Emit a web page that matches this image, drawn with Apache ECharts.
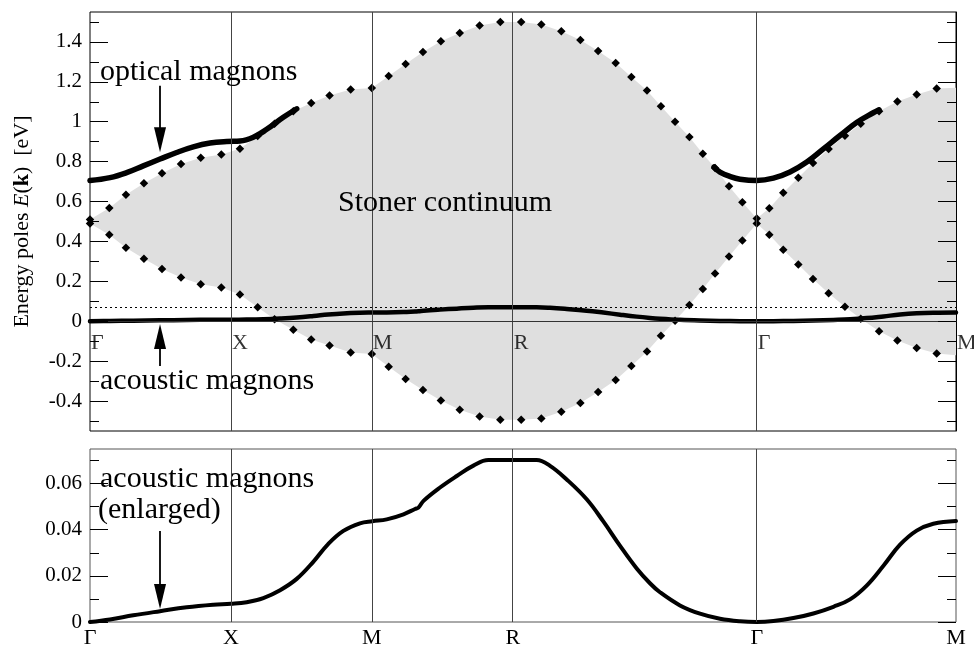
<!DOCTYPE html>
<html>
<head>
<meta charset="utf-8">
<script src="https://cdn.jsdelivr.net/npm/echarts@6/dist/echarts.min.js"></script>
<style>html,body{margin:0;padding:0;background:#fff}#c{width:974px;height:649px}</style>
</head>
<body>
<div id="c"></div>
<script>
// ---- high-symmetry points (units of pi/a along path) ----
const kPos = [0, 1, 2, 3, 4.732, 6.146];
const kNames = ['Γ', 'X', 'M', 'R', 'Γ', 'M'];

// ---- top panel ticks ----
const topMajor = [-0.4, -0.2, 0, 0.2, 0.4, 0.6, 0.8, 1, 1.2, 1.4];
const topMinor = [-0.5, -0.3, -0.1, 0.1, 0.3, 0.5, 0.7, 0.9, 1.1, 1.3, 1.5];
// ---- bottom panel ticks ----
const botMajor = [0, 0.02, 0.04, 0.06];
const botMinor = [0.01, 0.03, 0.05, 0.07];

// ---- Stoner continuum boundary (dots) ----
const stonerX = [0, 0.137, 0.255, 0.383, 0.511, 0.646, 0.786, 0.932, 1.064, 1.19, 1.31, 1.443, 1.57, 1.70, 1.85, 2.0, 2.12, 2.24, 2.363, 2.49, 2.624, 2.765, 2.912, 3.06, 3.203, 3.345, 3.48, 3.606, 3.731, 3.842, 3.953, 4.052, 4.152, 4.254, 4.349, 4.436, 4.535, 4.63, 4.732, 4.821, 4.92, 5.027, 5.131, 5.242, 5.358, 5.47, 5.6, 5.73, 5.867, 6.009];
const stonerUpper = [0.51, 0.568, 0.634, 0.692, 0.742, 0.788, 0.819, 0.836, 0.865, 0.928, 0.99, 1.052, 1.094, 1.132, 1.162, 1.169, 1.229, 1.29, 1.35, 1.403, 1.445, 1.482, 1.5, 1.5, 1.487, 1.453, 1.41, 1.355, 1.295, 1.224, 1.156, 1.077, 1.0, 0.923, 0.839, 0.768, 0.677, 0.597, 0.515, 0.567, 0.644, 0.719, 0.793, 0.863, 0.93, 0.99, 1.052, 1.102, 1.137, 1.166];
const stonerLower = [0.49, 0.433, 0.368, 0.313, 0.262, 0.219, 0.186, 0.169, 0.134, 0.07, 0.01, -0.042, -0.092, -0.122, -0.156, -0.164, -0.228, -0.29, -0.345, -0.397, -0.443, -0.477, -0.494, -0.494, -0.487, -0.453, -0.41, -0.355, -0.295, -0.224, -0.152, -0.072, 0.003, 0.082, 0.162, 0.24, 0.324, 0.405, 0.49, 0.433, 0.359, 0.284, 0.212, 0.14, 0.073, 0.012, -0.05, -0.097, -0.134, -0.161];
// continuum edge value at the right frame (M)
const stonerEdge = { x: 6.146, upper: 1.17, lower: -0.17 };

// ---- optical magnons ----
const opt1X = [0, 0.142, 0.26, 0.378, 0.497, 0.615, 0.733, 0.852, 0.97, 1.065, 1.159, 1.254, 1.372, 1.467];
const opt1Y = [0.705, 0.72, 0.745, 0.779, 0.813, 0.846, 0.874, 0.893, 0.901, 0.903, 0.922, 0.962, 1.022, 1.065];
const opt2X = [4.429, 4.471, 4.542, 4.613, 4.732, 4.85, 4.968, 5.087, 5.205, 5.323, 5.441, 5.559, 5.6];
const opt2Y = [0.773, 0.748, 0.726, 0.712, 0.705, 0.717, 0.748, 0.798, 0.864, 0.931, 0.996, 1.045, 1.06];

// ---- acoustic magnons ----
const acX = [0, 0.142, 0.307, 0.497, 0.686, 0.875, 1.0, 1.112, 1.23, 1.349, 1.467, 1.586, 1.69, 1.798, 1.916, 2.004, 2.106, 2.225, 2.307, 2.331, 2.367, 2.484, 2.603, 2.721, 2.827, 3.0, 3.17, 3.265, 3.383, 3.525, 3.643, 3.762, 3.88, 3.974, 4.045, 4.187, 4.329, 4.471, 4.613, 4.732, 4.85, 4.992, 5.134, 5.276, 5.394, 5.512, 5.631, 5.749, 5.867, 5.985, 6.146];
const acY = [0, 0.0011, 0.0029, 0.0047, 0.0064, 0.0075, 0.0079, 0.0086, 0.0104, 0.0138, 0.0187, 0.0262, 0.0338, 0.0395, 0.0428, 0.0437, 0.0445, 0.0467, 0.049, 0.0496, 0.0525, 0.0583, 0.0633, 0.0678, 0.0702, 0.0702, 0.0702, 0.0677, 0.0618, 0.0532, 0.0436, 0.033, 0.0232, 0.0168, 0.0129, 0.0072, 0.0036, 0.0014, 0.0003, 0, 0.0004, 0.0017, 0.0037, 0.0066, 0.0098, 0.0158, 0.0244, 0.0335, 0.0396, 0.0426, 0.0438];

// dotted reference level in top panel
const refLevel = 0.075;

const zip = (xs, ys) => xs.map((x, i) => [x, ys[i]]);
const FONT = '"Liberation Serif", "Times New Roman", serif';
const fmtNum = v => String(+(+v).toFixed(3));
const kLabel = v => { let b = 0; kPos.forEach((p, i) => { if (Math.abs(p - v) < Math.abs(kPos[b] - v)) b = i; }); return kNames[b]; };

function yAx(grid, pos, ticks, len, labels, range, extra) {
  return Object.assign({
    type: 'value', gridIndex: grid, position: pos, min: range[0], max: range[1], z: 6,
    axisLine: { show: false, onZero: false },
    axisTick: { show: true, inside: true, length: len, customValues: ticks, lineStyle: { color: '#000', width: 1 } },
    axisLabel: labels ? { show: true, customValues: ticks, formatter: fmtNum, margin: 8, color: '#000', fontFamily: FONT, fontSize: 21 } : { show: false },
    splitLine: { show: false }
  }, extra || {});
}

const topRange = [-0.55, 1.55];
const botRange = [0, 0.075];

const vLines = kPos.slice(1, 5).map(p => ({ xAxis: p }));
const lineBlack = { color: '#000', width: 1.8, type: 'solid' };
function arrow(x, y1, y2) {
  return [
    { coord: [x, y1], symbol: 'none', lineStyle: lineBlack },
    { coord: [x, y2], symbol: 'triangle', symbolSize: [12, 25], lineStyle: lineBlack, itemStyle: { color: '#000' } }
  ];
}

const fillPoly = {
  type: 'custom', xAxisIndex: 0, yAxisIndex: 0, z: 1, silent: true,
  data: [[0, 0]],
  renderItem: function (params, api) {
    const pts = [];
    stonerX.forEach((x, i) => pts.push(api.coord([x, stonerUpper[i]])));
    pts.push(api.coord([stonerEdge.x, stonerEdge.upper]));
    pts.push(api.coord([stonerEdge.x, stonerEdge.lower]));
    for (let i = stonerX.length - 1; i >= 0; i--) pts.push(api.coord([stonerX[i], stonerLower[i]]));
    return { type: 'polygon', shape: { points: pts }, style: { fill: '#dfdfdf', stroke: null } };
  }
};

const curve = (xi, yi, data, width, z) => ({
  type: 'line', xAxisIndex: xi, yAxisIndex: yi, z: z, silent: true, showSymbol: false, smooth: 0.4,
  lineStyle: { color: '#000', width: width, cap: 'round', join: 'round' }, data: data
});

const accTop = curve(0, 0, zip(acX, acY), 4.5, 4);
accTop.markLine = { silent: true, symbol: 'none', label: { show: false }, animation: false,
  lineStyle: { color: '#444', width: 1, type: 'solid' },
  data: vLines.concat([
    { yAxis: refLevel, lineStyle: { color: '#000', width: 1, type: [2, 3] } },
    arrow(0.497, 1.18, 0.91),
    arrow(0.497, -0.224, -0.076)
  ]) };
const accBot = curve(1, 4, zip(acX, acY), 4, 4);
accBot.markLine = { silent: true, symbol: 'none', label: { show: false }, animation: false,
  lineStyle: { color: '#444', width: 1, type: 'solid' },
  data: vLines.concat([ arrow(0.497, 0.0394, 0.0111) ]) };

const option = {
  animation: false,
  backgroundColor: '#fff',
  grid: [
    { left: 90, top: 12, width: 866, height: 419, show: true, borderColor: '#000', borderWidth: 1, backgroundColor: 'transparent' },
    { left: 90, top: 449, width: 866, height: 174.3, show: true, borderColor: '#555', borderWidth: 1, backgroundColor: 'transparent' }
  ],
  xAxis: [
    { type: 'value', gridIndex: 0, min: 0, max: 6.146, z: 6,
      axisLine: { show: true, onZero: true, lineStyle: { color: '#333', width: 1 } },
      axisTick: { show: false }, axisLabel: { show: false }, splitLine: { show: false } },
    { type: 'value', gridIndex: 1, min: 0, max: 6.146, position: 'bottom', z: 6,
      axisLine: { show: false, onZero: false },
      axisTick: { show: false },
      axisLabel: { show: true, customValues: kPos, formatter: kLabel, align: 'center', margin: 5, color: '#000', fontFamily: FONT, fontSize: 22 },
      splitLine: { show: false } }
  ],
  yAxis: [
    yAx(0, 'left', topMajor, 18, true, topRange, {
      name: 'Energy poles {i|E}({b|k})  [eV]', nameLocation: 'middle', nameGap: 57, nameRotate: 90,
      nameTextStyle: { color: '#000', fontFamily: FONT, fontSize: 22,
        rich: { i: { fontStyle: 'italic', fontFamily: FONT, fontSize: 22, color: '#000' }, b: { fontWeight: 'bold', fontFamily: FONT, fontSize: 22, color: '#000' } } }
    }),
    yAx(0, 'left', topMinor, 9, false, topRange),
    yAx(0, 'right', topMajor, 18, false, topRange, { axisLine: { show: true, onZero: false, lineStyle: { color: '#000', width: 1 } } }),
    yAx(0, 'right', topMinor, 9, false, topRange),
    yAx(1, 'left', botMajor, 18, true, botRange),
    yAx(1, 'left', botMinor, 9, false, botRange),
    yAx(1, 'right', botMajor, 18, false, botRange),
    yAx(1, 'right', botMinor, 9, false, botRange)
  ],
  series: [
    fillPoly,
    { type: 'scatter', xAxisIndex: 0, yAxisIndex: 0, z: 3, silent: true, symbol: 'diamond', symbolSize: 8.5,
      itemStyle: { color: '#000', opacity: 1 }, data: zip(stonerX, stonerUpper) },
    { type: 'scatter', xAxisIndex: 0, yAxisIndex: 0, z: 3, silent: true, symbol: 'diamond', symbolSize: 8.5,
      itemStyle: { color: '#000', opacity: 1 }, data: zip(stonerX, stonerLower) },
    curve(0, 0, zip(opt1X, opt1Y), 5.5, 4),
    curve(0, 0, zip(opt2X, opt2Y), 5.5, 4),
    accTop,
    accBot,
    // symmetry-point labels sitting just under the E = 0 line of the top panel
    { type: 'scatter', xAxisIndex: 0, yAxisIndex: 0, z: 7, silent: true, symbolSize: 0,
      data: kPos.map((p, i) => ({ value: [p, 0], name: kNames[i] })),
      label: { show: true, position: [1, 11], formatter: '{b}', color: '#000', fontFamily: FONT, fontSize: 22 } }
  ],
  graphic: [
    { type: 'text', x: 100, y: 72, z: 100, style: { text: 'optical magnons', font: '30px ' + FONT, fill: '#000', verticalAlign: 'middle' } },
    { type: 'text', x: 338, y: 203, z: 100, style: { text: 'Stoner continuum', font: '30px ' + FONT, fill: '#000', verticalAlign: 'middle' } },
    { type: 'text', x: 100, y: 381, z: 100, style: { text: 'acoustic magnons', font: '30px ' + FONT, fill: '#000', verticalAlign: 'middle' } },
    { type: 'text', x: 100, y: 479, z: 100, style: { text: 'acoustic magnons', font: '30px ' + FONT, fill: '#000', verticalAlign: 'middle' } },
    { type: 'text', x: 98, y: 510, z: 100, style: { text: '(enlarged)', font: '30px ' + FONT, fill: '#000', verticalAlign: 'middle' } }
  ]
};

const chart = echarts.init(document.getElementById('c'), null, { renderer: 'canvas' });
chart.setOption(option);
</script>
</body>
</html>
